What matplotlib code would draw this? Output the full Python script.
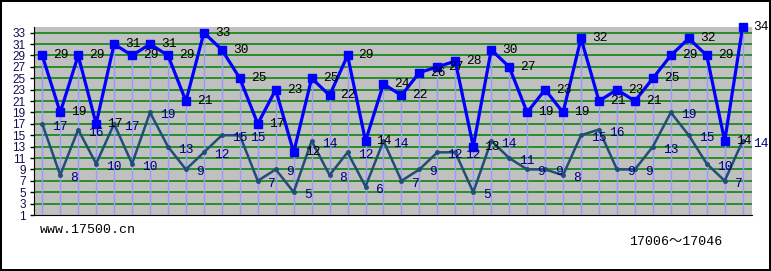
import matplotlib
matplotlib.use("Agg")
import matplotlib.pyplot as plt

# draw numbers 17006 .. 17046 (40 plotted)
upper = [29, 19, 29, 17, 31, 29, 31, 29, 21, 33, 30, 25, 17, 23, 12, 25, 22, 29, 14, 24,
         22, 26, 27, 28, 13, 30, 27, 19, 23, 19, 32, 21, 23, 21, 25, 29, 32, 29, 14, 34]
lower = [17, 8, 16, 10, 17, 10, 19, 13, 9, 12, 15, 15, 7, 9, 5, 14, 8, 12, 6, 14,
         7, 9, 12, 12, 5, 14, 11, 9, 9, 8, 15, 16, 9, 9, 13, 19, 15, 10, 7, 14]
yticks = list(range(1, 34, 2))
site = "www.17500.cn"
period = "17006～17046"

W, H = 771, 271
fig = plt.figure(figsize=(W / 100, H / 100), dpi=100)
fig.patch.set_facecolor("white")
fig.patch.set_edgecolor("black")
fig.patch.set_linewidth(1.5)

ax = fig.add_axes([34 / W, (H - 215) / H, (752 - 34) / W, (215 - 26.7) / H])
ax.set_facecolor("#c0c0c0")
x = list(range(len(upper)))
ax.set_xlim(-0.46, len(upper) - 0.48)
ax.set_ylim(1, 34.05)

for v in yticks[1:]:
    ax.axhline(v, color="#008000", lw=1.1, zorder=1)

# drop lines from the upper series
ax.vlines(x, 1, upper, color="#9999ff", lw=1, zorder=2)

ax.plot(x, lower, color="#1f4e79", lw=1.8, marker="o", ms=2.5, zorder=3, clip_on=False)
ax.plot(x, upper, color="#0000ff", lw=2.3, marker="s", ms=5.5, zorder=4, clip_on=False)

for xi, v in zip(x, upper):
    ax.annotate(str(v), (xi, v), xytext=(11, 0), textcoords="offset pixels",
                ha="left", va="center", fontsize=9.3, family="Liberation Mono",
                color="black", zorder=5, annotation_clip=False)
for xi, v in zip(x, lower):
    ax.annotate(str(v), (xi, v), xytext=(10, -3), textcoords="offset pixels",
                ha="left", va="center", fontsize=9.3, family="Liberation Mono",
                color="#000080", zorder=5, annotation_clip=False)

ax.set_xticks([])
ax.set_yticks(yticks)
ax.set_yticklabels([str(v) for v in yticks], fontsize=8.5, color="#101050",
                   family="Liberation Sans")
ax.tick_params(axis="y", length=3, width=1, color="black", pad=3)
for s in ["top", "right"]:
    ax.spines[s].set_visible(False)
ax.spines["left"].set_color("black")
ax.spines["bottom"].set_color("black")

fig.text(40 / W, 1 - 230 / H, site, ha="left", va="center", fontsize=9.5,
         family="Liberation Mono", color="black")
fig.text(629 / W, 1 - 242 / H, period, ha="left", va="center", fontsize=9.5,
         family=["Liberation Mono", "Noto Sans CJK SC"], color="black")

fig.savefig("out.png", dpi=100)
